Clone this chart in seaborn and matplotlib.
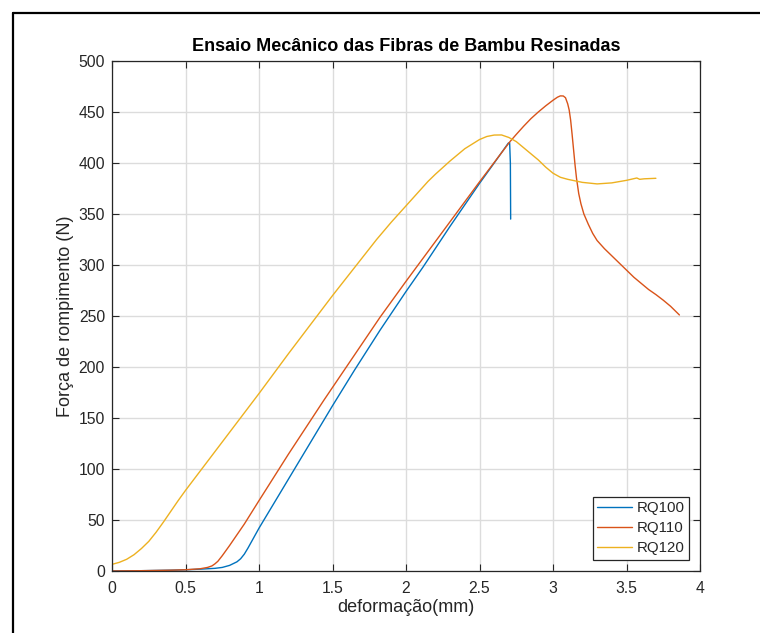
import matplotlib
matplotlib.use("Agg")
import matplotlib.pyplot as plt
from matplotlib.lines import Line2D
import seaborn as sns
import pandas as pd

# ---- data ----
rq100_x = [0, 0.2, 0.4, 0.5, 0.6, 0.7, 0.75, 0.8, 0.85, 0.875, 0.9, 0.925, 0.95, 1.0,
           1.1, 1.2, 1.3, 1.4, 1.5, 1.65, 1.823, 2.0, 2.116, 2.3, 2.5, 2.6, 2.696,
           2.705, 2.71, 2.712]
rq100_y = [0, 0.3, 0.8, 1.2, 1.8, 2.6, 3.5, 5.5, 9, 12, 16.5, 22.5, 29, 42,
           66, 90, 114, 138, 162, 197, 236, 274, 298, 338, 380, 400, 419.5,
           420, 400, 345]

rq110_x = [0, 0.2, 0.4, 0.5, 0.6, 0.65, 0.68, 0.7, 0.72, 0.75, 0.8, 0.9, 1.0, 1.2, 1.442,
           1.823, 2.0, 2.3, 2.5, 2.707, 2.75, 2.8, 2.85, 2.9, 2.95, 3.0, 3.03, 3.05, 3.07,
           3.085, 3.1, 3.11, 3.12, 3.13, 3.14, 3.15, 3.16, 3.175, 3.19, 3.21, 3.24, 3.27,
           3.3, 3.35, 3.4, 3.45, 3.5, 3.55, 3.6, 3.65, 3.7, 3.75, 3.8, 3.86]
rq110_y = [0, 0.3, 0.8, 1.2, 2.2, 3.5, 5, 7, 9.5, 15, 25, 46, 69, 114.5, 167.6,
           248.7, 284, 342.5, 381.5, 420.9, 428, 436, 443.5, 450, 456, 461.5, 464.5, 465.8, 465.7,
           464, 458, 452, 442, 428, 413, 398, 385, 370, 360, 350, 340, 331,
           324, 316, 309, 302, 295, 288, 282, 276, 271, 265.5, 259.5, 251]

rq120_x = [0, 0.05, 0.1, 0.15, 0.2, 0.25, 0.3, 0.35, 0.4, 0.45, 0.5, 0.6, 0.8, 1.0,
           1.2, 1.5, 1.8, 1.9, 2.0, 2.05, 2.1, 2.15, 2.2, 2.3, 2.4, 2.5, 2.55, 2.6, 2.65,
           2.7, 2.75, 2.8, 2.85, 2.9, 2.95, 3.0, 3.05, 3.1, 3.2, 3.3, 3.4, 3.5, 3.57, 3.59,
           3.62, 3.70]
rq120_y = [6.5, 8.5, 11.5, 16, 22, 29, 38, 48, 58.5, 69, 79, 98, 136, 174,
           213, 270, 325, 342, 358, 366, 374, 382, 389, 402, 414, 423, 426, 427.4, 427.5,
           425, 421, 415, 409, 403, 396, 390, 386, 384, 381, 379.5, 380.5, 383, 385.3, 384,
           384.5, 385]

series_names = ["RQ100", "RQ110", "RQ120"]
colors = ["#0072BD", "#D95319", "#EDB120"]

title = "Ensaio Mecânico das Fibras de Bambu Resinadas"
xlabel = "deformação(mm)"
ylabel = "Força de rompimento (N)"
xticks = [0, 0.5, 1, 1.5, 2, 2.5, 3, 3.5, 4]
xticklabels = ["0", "0.5", "1", "1.5", "2", "2.5", "3", "3.5", "4"]
yticks = [0, 50, 100, 150, 200, 250, 300, 350, 400, 450, 500]

# ---- build table ----
frames = []
for name, xs, ys in zip(series_names, [rq100_x, rq110_x, rq120_x], [rq100_y, rq110_y, rq120_y]):
    frames.append(pd.DataFrame({"x": xs, "y": ys, "serie": name}))
df = pd.concat(frames, ignore_index=True)

sns.set_theme(style="white")
plt.rcParams["font.family"] = ["Liberation Sans", "DejaVu Sans"]

fig = plt.figure(figsize=(7.6, 6.33), dpi=100)
ax = fig.add_axes([112 / 760, 1 - 571 / 633, 588 / 760, 510 / 633])

sns.lineplot(data=df, x="x", y="y", hue="serie", palette=colors, sort=False,
             estimator=None, units="serie", linewidth=1.0, ax=ax, legend=False)

ax.set_xlim(0, 4)
ax.set_ylim(0, 500)
ax.set_xticks(xticks)
ax.set_xticklabels(xticklabels)
ax.set_yticks(yticks)
ax.grid(True, color="#dcdcdc", linewidth=1.0)
ax.set_axisbelow(True)
for s in ax.spines.values():
    s.set_color("#262626")
    s.set_linewidth(0.9)
ax.tick_params(direction="in", length=5, width=0.8, color="#262626",
               top=True, right=True, bottom=True, left=True,
               labelsize=11.3, labelcolor="#262626")
ax.tick_params(axis="x", pad=7.5)
ax.tick_params(axis="y", pad=5)

ax.set_title(title, fontsize=13, fontweight="bold", color="black", pad=7)
ax.set_xlabel(xlabel, fontsize=13, color="#262626", labelpad=2)
ax.set_ylabel(ylabel, fontsize=13, color="#262626", labelpad=3)

handles = [Line2D([0], [0], color=c, lw=1.0) for c in colors]
leg = ax.legend(handles, series_names, loc="lower right", fontsize=10.8,
                frameon=True, fancybox=False, framealpha=1, edgecolor="#262626",
                handlelength=2.3, handletextpad=0.3, borderpad=0.3, labelspacing=0.4,
                borderaxespad=0.75)
leg.get_frame().set_linewidth(0.9)

# figure frame (partially visible border)
fig.add_artist(Line2D([12.5 / 760, 12.5 / 760], [0, 1 - 12.5 / 633],
                      transform=fig.transFigure, color="black", lw=1.6))
fig.add_artist(Line2D([12.5 / 760, 1], [1 - 12.5 / 633, 1 - 12.5 / 633],
                      transform=fig.transFigure, color="black", lw=1.6))

fig.savefig("out.png", dpi=100, facecolor="white")
